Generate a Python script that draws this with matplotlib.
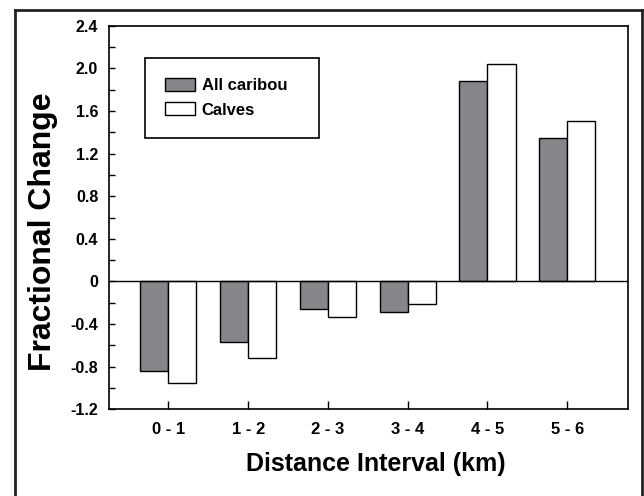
import matplotlib
matplotlib.use("Agg")
import matplotlib.pyplot as plt
from matplotlib.lines import Line2D
import numpy as np

# data
intervals = ["0 - 1", "1 - 2", "2 - 3", "3 - 4", "4 - 5", "5 - 6"]
all_caribou = [-0.84, -0.57, -0.26, -0.29, 1.88, 1.35]
calves = [-0.95, -0.72, -0.33, -0.21, 2.04, 1.51]
yticks = [-1.2, -0.8, -0.4, 0, 0.4, 0.8, 1.2, 1.6, 2.0, 2.4]
yticklabels = ["-1.2", "-0.8", "-0.4", "0", "0.4", "0.8", "1.2", "1.6", "2.0", "2.4"]

plt.rcParams["font.family"] = ["Liberation Sans", "DejaVu Sans"]

fig = plt.figure(figsize=(6.44, 4.96), dpi=100)
ax = fig.add_axes([109.3 / 644, 1 - 409.3 / 496, 519 / 644, (409.3 - 25.7) / 496])

x = np.arange(len(intervals))
w = 0.352
gray = "#858689"
ax.bar(x - w / 2, all_caribou, w, color=gray, edgecolor="black",
       linewidth=1.0, label="All caribou", zorder=3)
ax.bar(x + w / 2, calves, w, color="white", edgecolor="black",
       linewidth=1.0, label="Calves", zorder=3)
ax.axhline(0, color="black", linewidth=1.0, zorder=4)

ax.set_xlim(-0.74, 5.765)
ax.set_ylim(-1.2, 2.4)
ax.set_xticks(x)
ax.set_xticklabels(intervals, fontsize=12, fontweight="bold")
ax.set_yticks(yticks)
ax.set_yticklabels(yticklabels, fontsize=11.5, fontweight="bold")
ax.set_yticks(np.arange(-1.0, 2.4, 0.4), minor=True)
ax.tick_params(axis="y", which="both", direction="in", length=4.5,
               width=1.0, pad=8)
ax.tick_params(axis="x", direction="in", length=5.5, width=1.0, pad=9)
for s in ax.spines.values():
    s.set_linewidth(1.2)

ax.set_ylabel("Fractional Change", fontsize=23, fontweight="bold")
ax.yaxis.set_label_coords(-0.0985, 0.463)
ax.set_xlabel("Distance Interval (km)", fontsize=18, fontweight="bold")
ax.xaxis.set_label_coords(0.513, -0.111)

leg = ax.legend(loc="upper left", bbox_to_anchor=(0.0688, 0.7157, 0.335, 0.2),
                mode="expand", borderaxespad=0, frameon=True, fancybox=False,
                edgecolor="black", framealpha=1,
                prop={"size": 12, "weight": "bold"},
                handlelength=1.8, handleheight=0.8, handletextpad=0.4,
                borderpad=1.2, labelspacing=0.55)
leg.get_frame().set_linewidth(1.2)

# outer frame around the figure
fc = "#222222"
fig.add_artist(Line2D([14.5 / 644, 14.5 / 644], [0, 1 - 10 / 496], color=fc, lw=2))
fig.add_artist(Line2D([14.5 / 644, 642 / 644], [1 - 10 / 496, 1 - 10 / 496], color=fc, lw=2))
fig.add_artist(Line2D([642 / 644, 642 / 644], [0, 1 - 10 / 496], color=fc, lw=2))

fig.savefig("out.png", dpi=100)
